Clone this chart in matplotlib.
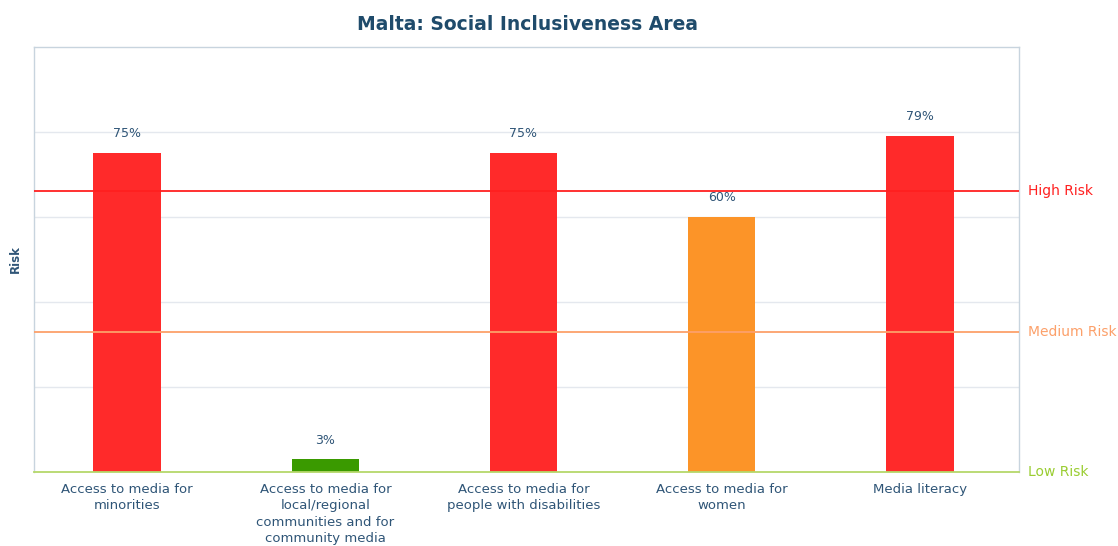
import matplotlib
matplotlib.use("Agg")
import matplotlib.pyplot as plt

categories = [
    "Access to media for\nminorities",
    "Access to media for\nlocal/regional\ncommunities and for\ncommunity media",
    "Access to media for\npeople with disabilities",
    "Access to media for\nwomen",
    "Media literacy",
]
values = [75, 3, 75, 60, 79]
bar_colors = ["#ff2a2a", "#3a9a00", "#ff2a2a", "#fc9428", "#ff2a2a"]
thresholds = [66, 33, 0]
threshold_labels = ["High Risk", "Medium Risk", "Low Risk"]
threshold_colors = ["#ff2020", "#fca06a", "#9acd32"]

text_color = "#2f5577"
plt.rcParams['font.family'] = ['DejaVu Sans']

fig = plt.figure(figsize=(11.18, 5.46), dpi=100)
ax = fig.add_axes([0.0304, 0.1355, 0.881, 0.7785])

x = list(range(len(categories)))
ax.bar(x, values, width=0.34, color=bar_colors, zorder=2)
for xi, v in zip(x, values):
    ax.text(xi, v + 3, f"{v}%", ha="center", va="bottom", fontsize=9, color=text_color)

ax.set_xlim(-0.47, 4.5)
ax.set_ylim(0, 100)
ax.set_yticks([20, 40, 60, 80])
ax.set_yticklabels([])
ax.tick_params(axis="y", length=0)
ax.tick_params(axis="x", length=0, pad=8)
ax.set_xticks(x)
ax.set_xticklabels(categories, fontsize=9.5, color=text_color, linespacing=1.32, va="top")
ax.grid(axis="y", color="#e4e8ee", linewidth=1, zorder=0)
ax.set_axisbelow(True)

for t, lab, c in zip(thresholds, threshold_labels, threshold_colors):
    if t > 0:
        ax.axhline(t, color=c, linewidth=1.3, zorder=3)
    ax.text(1.009, t / 100, lab, transform=ax.transAxes, color=c, fontsize=10,
            va="center", ha="left")

for side in ["left", "right", "top"]:
    ax.spines[side].set_color("#c8d4de")
    ax.spines[side].set_linewidth(1)
ax.spines["bottom"].set_color("#b5d86a")
ax.spines["bottom"].set_linewidth(1.3)

ax.set_ylabel("Risk", fontsize=8.5, fontweight="bold", color=text_color, labelpad=5)
fig.text(0.4718, 0.955, "Malta: Social Inclusiveness Area", ha="center", va="center",
         fontsize=13.5, fontweight="bold", color="#1f4b6b")

fig.savefig("out.png", dpi=100)
